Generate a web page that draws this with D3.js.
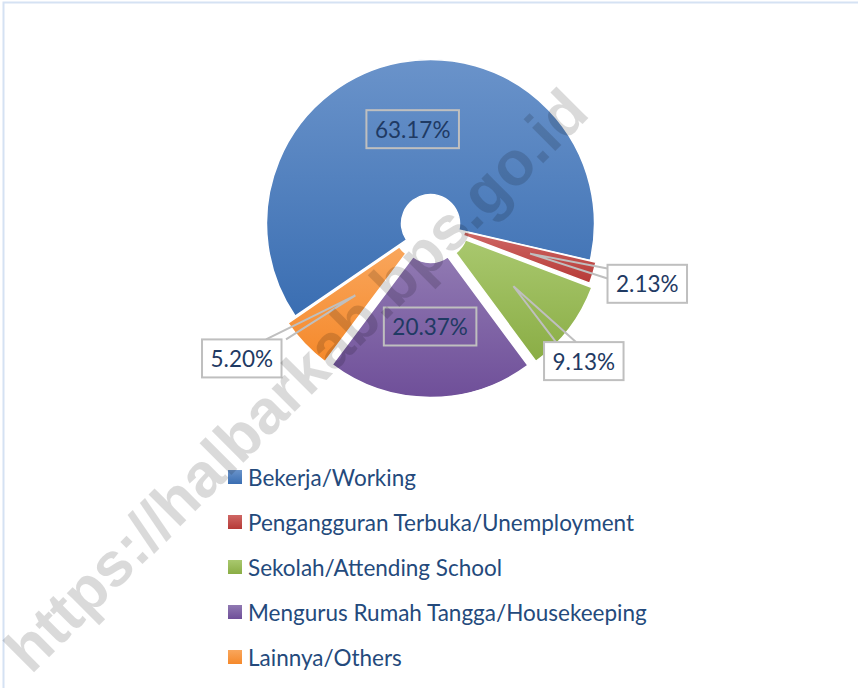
<!DOCTYPE html>
<html>
<head>
<meta charset="utf-8">
<script src="https://cdn.jsdelivr.net/npm/d3@7"></script>
<style>
  html, body { margin: 0; padding: 0; background: #fff; }
  svg { display: block; }
</style>
</head>
<body>
<div class="container"></div>
<script>
// data
var categories = ["Bekerja/Working", "Pengangguran Terbuka/Unemployment", "Sekolah/Attending School", "Mengurus Rumah Tangga/Housekeeping", "Lainnya/Others"];
var values = [63.17, 2.13, 9.13, 20.37, 5.20];
var labels = ["63.17%", "2.13%", "9.13%", "20.37%", "5.20%"];
var colorTop = ["#6a93ca", "#cf6764", "#a9c86e", "#9079b2", "#f9a65c"];
var colorBottom = ["#3a6eb2", "#b63a37", "#8aad45", "#6f4f99", "#f5892b"];

// layout (not data)
var explode = [0, 6, 10, 10, 10];
var labelRadius = [96, 225, 206, 103, 232];
var labelShift = [0, -1.3, 4.8, 0, 8.2]; // degrees
var inside = [true, false, false, true, false];

var W = 858, H = 688;
var cx = 430.5, cy = 223.5, R = 164, r0 = 29;
var startDeg = -124.4;

var svg = d3.select('.container')
    .append('svg')
    .attr('width', W)
    .attr('height', H);

// frame
svg.append('rect')
    .attr('x', 3.5).attr('y', 2.5)
    .attr('width', W + 10).attr('height', H + 10)
    .style('fill', 'none')
    .style('stroke', '#d5e2f3')
    .style('stroke-width', 2);

var defs = svg.append('defs');
values.forEach(function(v, i) {
    var g = defs.append('linearGradient')
        .attr('id', 'grad' + i)
        .attr('x1', 0).attr('y1', 0).attr('x2', 0).attr('y2', 1);
    g.append('stop').attr('offset', '0%').attr('stop-color', colorTop[i]);
    g.append('stop').attr('offset', '100%').attr('stop-color', colorBottom[i]);
});

var pie = d3.pie()
    .sort(null)
    .value(d => d)
    .startAngle(startDeg * Math.PI / 180)
    .endAngle(startDeg * Math.PI / 180 + 2 * Math.PI);

var arcs = pie(values);
var arc = d3.arc().innerRadius(r0).outerRadius(R);

function polar(a, r) {
    return [cx + r * Math.sin(a), cy - r * Math.cos(a)];
}
function mid(d) { return (d.startAngle + d.endAngle) / 2; }

svg.selectAll('.slice')
    .data(arcs)
    .enter()
    .append('path')
    .attr('class', 'slice')
    .attr('transform', function(d, i) {
        var p = polar(mid(d), explode[i]);
        return 'translate(' + p[0] + ',' + p[1] + ')';
    })
    .attr('d', arc)
    .style('fill', (d, i) => 'url(#grad' + i + ')')
    .style('stroke', '#fff')
    .style('stroke-width', 1.5);

// data labels
var lab = svg.selectAll('.lab')
    .data(arcs)
    .enter()
    .append('g')
    .attr('class', 'lab');

lab.each(function(d, i) {
    var g = d3.select(this);
    var a = mid(d);
    var c = polar(a + labelShift[i] * Math.PI / 180, labelRadius[i]);
    var t = g.append('text')
        .attr('x', c[0]).attr('y', c[1])
        .attr('text-anchor', 'middle')
        .attr('dominant-baseline', 'central')
        .style('font-family', 'Lato, "Open Sans", sans-serif')
        .style('font-size', '22.5px')
        .style('fill', '#1f3a63')
        .text(labels[i]);
    var tw = t.node().getComputedTextLength();
    var bw = tw + 17, bh = 38;
    var x0 = c[0] - bw / 2, y0 = c[1] - bh / 2;

    if (!inside[i]) {
        var anc = polar(a, 104);
        var dx = anc[0] - c[0], dy = anc[1] - c[1];
        var tx = Math.abs(dx) > 0 ? (bw / 2) / Math.abs(dx) : Infinity;
        var ty = Math.abs(dy) > 0 ? (bh / 2) / Math.abs(dy) : Infinity;
        var b1, b2;
        if (tx < ty) {
            var ex = c[0] + dx * tx, ey = c[1] + dy * tx;
            b1 = [ex, ey - 5]; b2 = [ex, ey + 5];
        } else {
            var ex2 = c[0] + dx * ty, ey2 = c[1] + dy * ty;
            b1 = [ex2 - 10, ey2]; b2 = [ex2 + 10, ey2];
        }
        g.insert('path', 'text')
            .attr('d', 'M' + b1 + 'L' + anc + 'L' + b2)
            .style('fill', 'none')
            .style('stroke', '#bfbfbf')
            .style('stroke-width', 2);
    }
    g.insert('rect', 'text')
        .attr('x', x0).attr('y', y0)
        .attr('width', bw).attr('height', bh)
        .style('fill', inside[i] ? 'none' : '#fff')
        .style('stroke', '#bfbfbf')
        .style('stroke-width', 2);
});

// legend
var legend = svg.selectAll('.legend')
    .data(categories)
    .enter()
    .append('g')
    .attr('class', 'legend')
    .attr('transform', (d, i) => 'translate(228,' + (477 + i * 45) + ')');

legend.append('rect')
    .attr('x', 0).attr('y', -7)
    .attr('width', 14).attr('height', 14)
    .style('fill', (d, i) => 'url(#grad' + i + ')');

legend.append('text')
    .attr('x', 20).attr('y', 0)
    .attr('dominant-baseline', 'central')
    .style('font-family', 'Lato, "Open Sans", sans-serif')
    .style('font-size', '22.5px')
    .style('fill', '#244a7c')
    .text(d => d);

// watermark
svg.append('text')
    .attr('transform', 'translate(296,380) rotate(-45)')
    .attr('text-anchor', 'middle')
    .attr('dominant-baseline', 'central')
    .style('font-family', '"Liberation Sans", Arial, sans-serif')
    .style('font-weight', 'bold')
    .style('font-size', '62px')
    .style('fill', '#000')
    .style('opacity', 0.14)
    .text('https://halbarkab.bps.go.id');
</script>
</body>
</html>
